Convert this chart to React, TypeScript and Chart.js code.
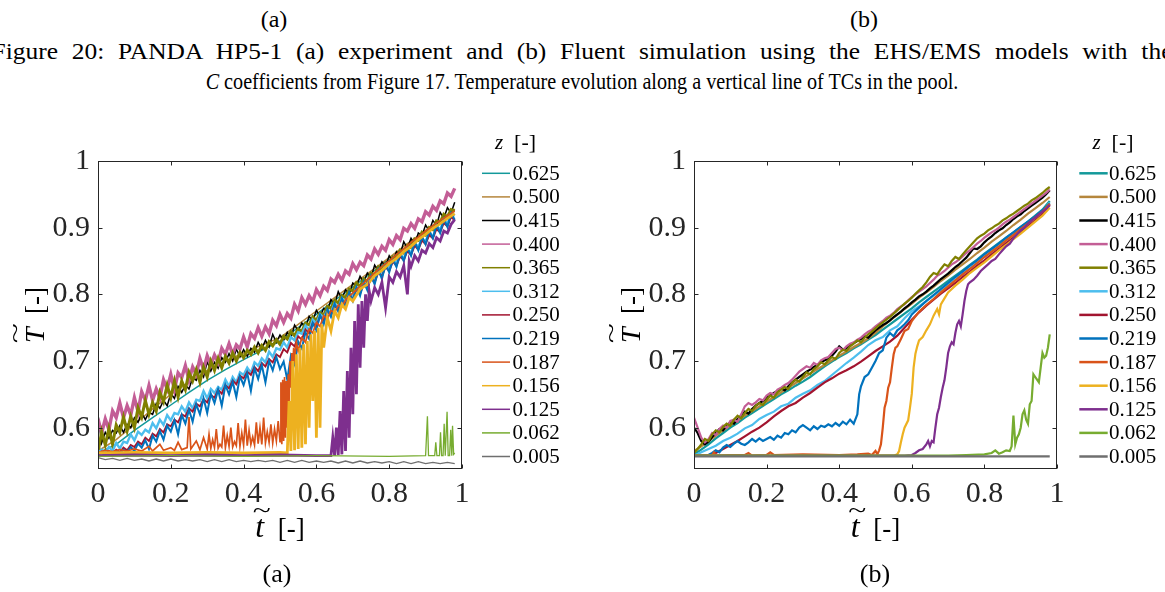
import React, { useEffect, useRef } from "react";
import { Chart, registerables } from "chart.js";
Chart.register(...registerables);

// ---------- categories / ticks ----------
const zLabels = ["0.625", "0.500", "0.415", "0.400", "0.365", "0.312", "0.250", "0.219", "0.187", "0.156", "0.125", "0.062", "0.005"];
const zColors = ["#13999a", "#b5863c", "#000000", "#c35e96", "#808000", "#4dbeee", "#a2142f", "#0072bd", "#d95319", "#edb120", "#7e2f8e", "#77ac30", "#6f6f6f"];
const xTickValues = [0, 0.2, 0.4, 0.6, 0.8, 1];
const yTickValues = [0.6, 0.7, 0.8, 0.9, 1];

// ---------- time grids ----------
const gridFine = [0,0.01,0.02,0.03,0.04,0.05,0.06,0.07,0.08,0.09,0.1,0.11,0.12,0.13,0.14,0.15,0.16,0.17,0.18,0.19,0.2,0.21,0.22,0.23,0.24,0.25,0.26,0.27,0.28,0.29,0.3,0.31,0.32,0.33,0.34,0.35,0.36,0.37,0.38,0.39,0.4,0.41,0.42,0.43,0.44,0.45,0.46,0.47,0.48,0.49,0.5,0.51,0.52,0.53,0.54,0.55,0.56,0.57,0.58,0.59,0.6,0.61,0.62,0.63,0.64,0.65,0.66,0.67,0.68,0.69,0.7,0.71,0.72,0.73,0.74,0.75,0.76,0.77,0.78,0.79,0.8,0.81,0.82,0.83,0.84,0.85,0.86,0.87,0.88,0.89,0.9,0.91,0.92,0.93,0.94,0.95,0.96,0.97,0.98];
const gridMid = [0,0.02,0.04,0.06,0.08,0.1,0.12,0.14,0.16,0.18,0.2,0.22,0.24,0.26,0.28,0.3,0.32,0.34,0.36,0.38,0.4,0.42,0.44,0.46,0.48,0.5,0.52,0.54,0.56,0.58,0.6,0.62,0.64,0.66,0.68,0.7,0.72,0.74,0.76,0.78,0.8,0.82,0.84,0.86,0.88,0.9,0.92,0.94,0.96,0.98];
const gridCoarse = [0,0.05,0.1,0.15,0.2,0.25,0.3,0.35,0.4,0.45,0.5,0.55,0.6,0.65,0.7,0.75,0.8,0.85,0.9,0.95,0.98];

// ---------- (a) experiment ----------
const expTeal = [0.562,0.575,0.596,0.615,0.634,0.653,0.671,0.687,0.702,0.716,0.730,0.750,0.770,0.791,0.811,0.832,0.852,0.872,0.893,0.912,0.926];
const expTan = [0.565,0.582,0.605,0.628,0.650,0.668,0.686,0.700,0.712,0.724,0.735,0.755,0.775,0.795,0.815,0.835,0.855,0.876,0.896,0.915,0.928];
const expBlack = [0.620,0.577,0.593,0.584,0.596,0.592,0.603,0.593,0.605,0.600,
  0.615,0.608,0.622,0.612,0.623,0.620,0.636,0.629,0.641,0.633,
  0.651,0.644,0.662,0.653,0.664,0.658,0.675,0.671,0.686,0.676,
  0.699,0.685,0.698,0.689,0.705,0.698,0.711,0.700,0.718,0.706,
  0.717,0.707,0.719,0.713,0.728,0.718,0.731,0.721,0.740,0.728,
  0.739,0.731,0.743,0.735,0.754,0.745,0.757,0.750,0.767,0.760,
  0.776,0.767,0.779,0.775,0.792,0.785,0.804,0.793,0.807,0.800,
  0.817,0.812,0.827,0.818,0.832,0.825,0.844,0.835,0.849,0.842,
  0.858,0.849,0.864,0.859,0.879,0.869,0.884,0.875,0.892,0.888,
  0.904,0.895,0.911,0.903,0.923,0.914,0.930,0.922,0.938];
const expPink = [0.613,0.592,0.613,0.597,0.625,0.615,0.637,0.615,0.633,0.619,
  0.645,0.624,0.654,0.641,0.663,0.641,0.658,0.645,0.672,0.658,
  0.680,0.657,0.682,0.675,0.693,0.671,0.691,0.680,0.704,0.687,
  0.708,0.694,0.709,0.698,0.719,0.710,0.726,0.710,0.724,0.718,
  0.736,0.721,0.741,0.734,0.750,0.737,0.751,0.741,0.761,0.753,
  0.770,0.758,0.771,0.764,0.785,0.775,0.795,0.785,0.798,0.789,
  0.807,0.798,0.812,0.806,0.823,0.818,0.830,0.821,0.835,0.830,
  0.846,0.837,0.848,0.843,0.859,0.853,0.868,0.860,0.872,0.866,
  0.882,0.875,0.888,0.882,0.899,0.895,0.906,0.899,0.913,0.909,
  0.924,0.919,0.932,0.926,0.940,0.936,0.952,0.947,0.959];
const expOlive = [0.562,0.594,0.574,0.599,0.575,0.604,0.593,0.616,0.595,0.617,
  0.600,0.630,0.616,0.641,0.620,0.638,0.625,0.653,0.639,0.664,
  0.645,0.670,0.646,0.670,0.657,0.683,0.670,0.687,0.668,0.691,
  0.676,0.700,0.686,0.704,0.690,0.707,0.697,0.712,0.700,0.713,
  0.705,0.716,0.710,0.721,0.712,0.723,0.716,0.729,0.723,0.732,
  0.725,0.737,0.733,0.744,0.738,0.748,0.744,0.757,0.754,0.766,
  0.761,0.772,0.768,0.782,0.779,0.791,0.787,0.798,0.795,0.808,
  0.805,0.817,0.812,0.823,0.819,0.832,0.829,0.841,0.836,0.847,
  0.843,0.856,0.854,0.866,0.862,0.873,0.870,0.883,0.881,0.893,
  0.889,0.900,0.897,0.910,0.908,0.920,0.916,0.927,0.925];
const expLightBlue = [0.562,0.567,0.562,0.571,0.565,0.577,0.569,0.579,0.577,0.590,
  0.581,0.594,0.589,0.597,0.593,0.607,0.599,0.612,0.604,0.619,
  0.611,0.622,0.620,0.632,0.624,0.638,0.629,0.642,0.640,0.655,
  0.644,0.658,0.652,0.661,0.657,0.672,0.662,0.676,0.668,0.683,
  0.679,0.690,0.682,0.698,0.693,0.704,0.698,0.714,0.706,0.719,
  0.717,0.728,0.720,0.736,0.731,0.743,0.741,0.753,0.746,0.762,
  0.756,0.770,0.765,0.776,0.773,0.786,0.779,0.794,0.789,0.800,
  0.798,0.810,0.804,0.817,0.814,0.827,0.821,0.836,0.829,0.844,
  0.840,0.850,0.848,0.860,0.854,0.868,0.862,0.876,0.872,0.882,
  0.880,0.892,0.886,0.903,0.897,0.912,0.906,0.921,0.918];
const expRed = [0.561,0.564,0.560,0.565,0.561,0.567,0.563,0.570,0.566,0.574,
  0.571,0.579,0.575,0.585,0.580,0.591,0.587,0.598,0.593,0.605,
  0.602,0.612,0.608,0.620,0.617,0.629,0.624,0.636,0.632,0.643,
  0.638,0.649,0.645,0.657,0.651,0.664,0.659,0.671,0.665,0.678,
  0.674,0.684,0.679,0.691,0.685,0.697,0.692,0.703,0.698,0.710,
  0.706,0.718,0.713,0.727,0.722,0.737,0.732,0.747,0.742,0.757,
  0.752,0.767,0.761,0.775,0.769,0.783,0.777,0.791,0.785,0.799,
  0.793,0.807,0.801,0.816,0.810,0.824,0.818,0.833,0.827,0.841,
  0.835,0.849,0.843,0.857,0.851,0.865,0.859,0.873,0.867,0.881,
  0.875,0.889,0.884,0.898,0.893,0.907,0.902,0.916,0.911];
const expBlue = [0.560,0.562,0.558,0.563,0.560,0.565,0.560,0.567,0.563,0.571,
  0.565,0.576,0.570,0.581,0.568,0.588,0.579,0.595,0.582,0.603,
  0.594,0.611,0.590,0.619,0.606,0.627,0.609,0.635,0.620,0.644,
  0.622,0.651,0.637,0.657,0.633,0.664,0.650,0.669,0.646,0.677,
  0.664,0.682,0.655,0.689,0.673,0.694,0.668,0.700,0.686,0.706,
  0.688,0.699,0.672,0.708,0.695,0.729,0.719,0.743,0.733,0.757,
  0.746,0.769,0.755,0.777,0.766,0.786,0.774,0.794,0.781,0.803,
  0.790,0.811,0.798,0.819,0.806,0.828,0.815,0.837,0.823,0.845,
  0.833,0.853,0.841,0.862,0.850,0.870,0.858,0.879,0.866,0.887,
  0.875,0.896,0.884,0.904,0.892,0.913,0.901,0.922,0.912];
const expOrangeT = [0,0.02,0.04,0.06,0.08,0.1,0.12,0.14,0.15,0.17,0.18,0.2,0.21,0.22,0.23,0.245,0.25,0.255,0.27,0.28,0.29,
  0.3,0.305,0.31,0.315,0.32,0.325,0.33,0.335,0.34,0.345,0.35,0.355,0.36,0.365,0.37,0.375,0.38,0.385,0.39,0.395,0.4,0.405,0.41,0.415,0.42,0.425,0.43,0.435,0.44,0.445,0.45,0.455,0.46,0.465,0.47,0.475,0.48,0.485,0.49,0.495,0.5,
  0.5025,0.505,0.5075,0.51,0.5125,0.515,0.5175,0.52,0.5225,0.525,0.5275,0.53,0.5325,0.535,0.5375,0.54,0.545,0.55,
  0.56,0.57,0.58,0.59,0.6,0.61,0.62,0.63,0.64,0.65,0.66,0.67,0.68,
  0.7,0.72,0.74,0.76,0.78,0.8,0.82,0.84,0.86,0.88,0.9,0.92,0.94,0.96,0.98];
const expOrange = [0.563,0.566,0.564,0.567,0.565,0.568,0.565,0.572,0.565,0.575,0.566,0.570,0.566,0.578,0.567,0.570,0.616,0.568,0.580,0.567,0.585,
  0.568,0.590,0.569,0.582,0.570,0.598,0.569,0.575,0.571,0.603,
  0.570,0.588,0.572,0.600,0.571,0.579,0.573,0.607,0.572,0.592,
  0.574,0.612,0.573,0.596,0.575,0.586,0.574,0.608,0.576,0.600,
  0.575,0.615,0.577,0.594,0.578,0.605,0.577,0.598,0.580,0.610,
  0.579,
  0.668,0.575,0.672,0.580,0.676,0.585,0.670,0.600,0.680,0.640,0.700,0.660,0.712,0.690,0.720,
  0.705,0.728,0.715,
  0.735,0.728,0.748,0.742,0.758,0.752,0.768,0.763,0.776,0.772,0.784,0.781,0.792,
  0.802,0.812,0.822,0.832,0.842,0.850,0.860,0.868,0.878,0.886,0.895,0.903,0.911,0.918,0.925];
const expYellowT = [0,0.1,0.2,0.3,0.4,0.5,0.52,0.525,0.53,0.535,0.54,0.545,0.55,0.555,0.56,0.565,0.57,0.575,0.58,0.585,0.59,0.595,0.6,0.605,0.61,0.615,0.62,0.63,0.64,0.65,0.66,0.67,0.68,0.69,0.7,0.72,0.74,0.76,0.78,0.8,0.82,0.84,0.86,0.88,0.9,0.92,0.94,0.96,0.98];
const expYellow = [0.562,0.563,0.562,0.563,0.562,0.563,
  0.562,
  0.640,0.565,0.700,0.566,0.710,0.568,0.720,0.570,0.725,0.575,0.730,0.600,0.740,0.640,0.745,0.585,0.750,0.600,0.755,
  0.720,0.765,0.745,0.775,0.765,0.785,0.778,0.795,0.790,
  0.808,0.815,0.828,0.836,0.846,0.854,0.864,0.872,0.882,0.890,0.899,0.906,0.914,0.921];
const expPurpleT = [0,0.1,0.2,0.3,0.4,0.5,0.6,0.64,0.645,0.65,0.655,0.66,0.665,0.67,0.675,0.68,0.685,0.69,0.695,0.7,0.705,0.71,0.715,0.72,0.725,0.73,0.735,0.74,0.745,0.75,0.76,0.77,0.78,0.79,0.8,0.81,0.82,0.83,0.84,0.85,0.855,0.86,0.87,0.88,0.89,0.9,0.91,0.92,0.93,0.94,0.95,0.96,0.97,0.98];
const expPurple = [0.558,0.559,0.558,0.559,0.558,0.559,0.558,
  0.558,
  0.585,0.558,0.600,0.559,0.625,0.560,0.655,0.565,0.685,0.585,0.720,0.620,0.760,0.650,0.785,0.690,0.790,0.720,0.800,0.760,0.805,0.790,
  0.810,0.800,0.818,0.780,0.826,0.818,0.834,0.826,0.843,0.800,
  0.850,
  0.842,0.858,0.850,0.866,0.862,0.876,0.870,0.885,0.880,0.895,0.892,0.905,0.912];
const expGreenT = [0,0.2,0.4,0.6,0.8,0.9,0.905,0.908,0.925,0.928,0.931,0.938,0.941,0.944,0.948,0.951,0.954,0.956,0.959,0.962,0.966,0.969,0.972,0.974,0.977,0.98];
const expGreen = [0.557,0.558,0.557,0.558,0.557,0.558,0.617,0.558,0.558,0.578,0.558,0.558,0.593,0.558,0.558,0.606,0.558,0.558,0.624,0.558,0.558,0.597,0.558,0.603,0.560,0.562];
const expGray = [0.555,0.552,0.554,0.551,0.554,0.551,0.553,0.550,0.553,0.550,
  0.553,0.550,0.552,0.550,0.552,0.549,0.552,0.549,0.552,0.549,
  0.551,0.549,0.551,0.549,0.551,0.548,0.551,0.548,0.551,0.548,
  0.550,0.548,0.550,0.547,0.550,0.547,0.550,0.547,0.549,0.547,
  0.549,0.546,0.549,0.546,0.549,0.546,0.548,0.546,0.548,0.546];

// ---------- (b) simulation ----------
const simTeal = [0.560,0.567,0.575,0.584,0.592,0.600,0.607,0.615,0.622,0.629,
  0.636,0.643,0.650,0.656,0.663,0.669,0.676,0.684,0.692,0.699,
  0.706,0.712,0.719,0.725,0.732,0.739,0.747,0.755,0.763,0.771,
  0.779,0.788,0.796,0.804,0.812,0.820,0.828,0.836,0.844,0.852,
  0.861,0.869,0.877,0.885,0.893,0.901,0.909,0.918,0.927,0.940];
const simTan = [0.565,0.572,0.580,0.588,0.596,0.604,0.611,0.618,0.625,0.632,
  0.639,0.646,0.653,0.660,0.667,0.674,0.681,0.688,0.694,0.701,
  0.708,0.714,0.721,0.727,0.734,0.742,0.752,0.761,0.769,0.778,
  0.786,0.795,0.803,0.811,0.820,0.828,0.837,0.845,0.853,0.862,
  0.870,0.879,0.887,0.895,0.904,0.912,0.921,0.929,0.937,0.946];
const simBlack = [0.600,0.592,0.580,0.575,0.579,0.586,0.592,0.598,0.596,0.603,
  0.608,0.606,0.613,0.618,0.624,0.621,0.628,0.633,0.637,0.640,
  0.645,0.648,0.652,0.655,0.659,0.656,0.662,0.668,0.672,0.676,
  0.680,0.684,0.687,0.691,0.694,0.698,0.701,0.703,0.708,0.714,
  0.722,0.717,0.719,0.724,0.727,0.730,0.733,0.737,0.735,0.741,
  0.746,0.750,0.754,0.757,0.761,0.766,0.770,0.774,0.779,0.783,
  0.788,0.792,0.797,0.800,0.804,0.809,0.813,0.818,0.823,0.827,
  0.831,0.836,0.841,0.845,0.850,0.855,0.862,0.869,0.868,0.872,
  0.878,0.883,0.887,0.892,0.896,0.899,0.904,0.908,0.913,0.917,
  0.920,0.925,0.929,0.933,0.937,0.941,0.945,0.950,0.956];
const simPink = [0.615,0.600,0.585,0.578,0.583,0.592,0.589,0.598,0.603,0.600,
  0.610,0.612,0.609,0.620,0.632,0.637,0.634,0.638,0.643,0.641,
  0.648,0.652,0.650,0.657,0.660,0.664,0.667,0.672,0.678,0.684,
  0.688,0.692,0.690,0.697,0.694,0.701,0.704,0.706,0.712,0.718,
  0.720,0.716,0.722,0.726,0.728,0.732,0.735,0.740,0.744,0.747,
  0.752,0.756,0.760,0.765,0.768,0.772,0.778,0.782,0.785,0.791,
  0.796,0.800,0.804,0.808,0.812,0.817,0.822,0.828,0.831,0.835,
  0.840,0.845,0.848,0.852,0.857,0.862,0.866,0.871,0.876,0.880,
  0.885,0.889,0.893,0.896,0.900,0.905,0.909,0.912,0.916,0.920,
  0.924,0.928,0.932,0.936,0.940,0.944,0.948,0.952,0.957];
const simOlive = [0.562,0.568,0.575,0.583,0.580,0.590,0.596,0.593,0.601,0.606,
  0.603,0.612,0.618,0.614,0.622,0.628,0.625,0.633,0.637,0.634,
  0.642,0.648,0.645,0.653,0.657,0.661,0.658,0.667,0.672,0.669,
  0.676,0.683,0.680,0.688,0.692,0.698,0.695,0.701,0.706,0.703,
  0.712,0.717,0.715,0.722,0.726,0.731,0.728,0.735,0.740,0.744,
  0.749,0.754,0.758,0.762,0.766,0.771,0.776,0.781,0.786,0.790,
  0.795,0.801,0.806,0.811,0.818,0.826,0.832,0.830,0.838,0.845,
  0.842,0.850,0.856,0.853,0.860,0.866,0.872,0.878,0.884,0.888,
  0.891,0.896,0.899,0.903,0.906,0.911,0.914,0.918,0.921,0.925,
  0.929,0.933,0.936,0.941,0.944,0.948,0.952,0.957,0.961];
const simLightBlue = [0.558,0.563,0.568,0.573,0.580,0.585,0.591,0.599,0.604,0.613,
  0.619,0.624,0.632,0.636,0.645,0.651,0.656,0.664,0.670,0.679,
  0.688,0.697,0.705,0.714,0.724,0.731,0.736,0.746,0.752,0.764,
  0.775,0.782,0.790,0.798,0.806,0.814,0.822,0.830,0.839,0.847,
  0.856,0.864,0.872,0.881,0.889,0.898,0.906,0.915,0.924,0.938];
const simRed = [0.558,0.558,0.559,0.562,0.568,0.574,0.580,0.587,0.594,0.600,
  0.608,0.617,0.625,0.632,0.637,0.645,0.652,0.660,0.668,0.674,
  0.681,0.686,0.692,0.699,0.707,0.715,0.722,0.729,0.738,0.750,
  0.762,0.773,0.783,0.792,0.801,0.809,0.817,0.826,0.834,0.843,
  0.851,0.860,0.868,0.877,0.885,0.894,0.902,0.911,0.920,0.934];
const simBlueT = [0,0.04,0.05,0.06,0.07,0.08,0.09,0.1,0.11,0.12,0.13,0.14,0.15,0.16,0.17,0.18,0.19,0.2,0.21,0.22,0.23,0.24,0.25,0.26,0.27,0.28,0.29,0.3,0.31,0.32,0.33,0.34,0.35,0.36,0.37,0.38,0.39,0.4,0.41,0.42,0.43,0.44,0.45,0.455,0.46,0.47,0.48,0.49,0.5,0.51,0.52,0.53,0.54,0.55,0.56,0.57,0.58,0.59,0.6,0.62,0.64,0.66,0.68,0.7,0.72,0.74,0.76,0.78,0.8,0.82,0.84,0.86,0.88,0.9,0.92,0.94,0.96,0.98];
const simBlue = [0.558,
  0.559,0.562,0.566,0.563,0.570,0.574,0.571,0.576,0.580,0.576,
  0.574,0.578,0.583,0.579,0.584,0.580,0.583,0.586,0.582,0.588,
  0.585,0.592,0.590,0.596,0.593,0.600,0.604,0.600,0.596,0.602,
  0.598,0.603,0.601,0.605,0.602,0.607,0.603,0.609,0.605,0.612,
  0.606,0.620,
  0.650,
  0.662,0.676,0.680,0.690,0.700,0.712,0.716,0.735,0.742,0.737,0.746,0.750,0.755,0.761,0.770,
  0.780,0.790,0.799,0.808,0.817,0.826,0.834,0.843,0.851,0.860,0.868,0.876,0.885,0.893,0.901,0.909,0.917,0.926,0.936];
const simOrangeT = [0,0.05,0.055,0.06,0.1,0.14,0.15,0.16,0.2,0.21,0.22,0.3,0.4,0.45,0.48,0.49,0.5,0.505,0.51,0.515,0.52,0.525,0.53,0.535,0.54,0.545,0.55,0.555,0.56,0.57,0.58,0.59,0.6,0.62,0.64,0.66,0.68,0.7,0.72,0.74,0.76,0.78,0.8,0.82,0.84,0.86,0.88,0.9,0.92,0.94,0.96,0.98];
const simOrange = [0.558,0.559,0.563,0.558,0.559,
  0.559,0.562,0.558,0.559,0.563,
  0.559,0.560,0.559,0.560,0.561,
  0.559,0.565,0.560,0.566,0.575,
  0.600,0.630,0.640,0.660,0.668,
  0.690,0.710,0.720,0.722,0.733,
  0.745,0.748,0.760,0.774,0.784,
  0.793,0.803,0.812,0.821,0.830,
  0.838,0.847,0.856,0.864,0.872,
  0.881,0.889,0.898,0.906,0.915,
  0.924,0.936];
const simYellowT = [0,0.3,0.55,0.56,0.565,0.57,0.575,0.58,0.59,0.595,0.6,0.605,0.61,0.615,0.62,0.63,0.64,0.65,0.66,0.67,0.675,0.68,0.69,0.7,0.72,0.74,0.76,0.78,0.8,0.82,0.84,0.86,0.88,0.9,0.92,0.94,0.96,0.98];
const simYellow = [0.558,0.558,0.558,0.560,0.565,
  0.578,0.590,0.600,0.611,0.630,
  0.651,0.690,0.711,0.722,0.731,
  0.736,0.746,0.755,0.768,0.778,
  0.770,0.785,0.794,0.803,0.813,
  0.822,0.832,0.840,0.848,0.857,
  0.866,0.874,0.883,0.891,0.900,
  0.909,0.918,0.930];
const simPurpleT = [0,0.58,0.6,0.61,0.62,0.63,0.64,0.645,0.65,0.655,0.66,0.665,0.67,0.675,0.68,0.685,0.69,0.695,0.7,0.705,0.71,0.715,0.72,0.725,0.73,0.735,0.74,0.745,0.75,0.755,0.76,0.77,0.78,0.79,0.8,0.81,0.82,0.83,0.84,0.85,0.86,0.87,0.88,0.89,0.9,0.91,0.92,0.93,0.94,0.95,0.96,0.97,0.98];
const simPurple = [0.558,0.558,0.559,0.562,0.566,
  0.568,0.575,
  0.580,0.572,0.580,0.578,0.600,0.620,0.630,0.646,0.660,0.671,0.690,0.712,0.722,0.728,0.725,0.742,0.755,0.760,0.752,0.770,0.790,0.805,0.815,
  0.818,0.822,0.828,0.835,0.840,0.845,0.850,0.853,0.860,0.866,0.872,0.876,0.884,0.890,0.896,0.900,0.906,0.911,0.915,0.920,0.924,0.928,0.934];
const simGreenT = [0,0.7,0.75,0.8,0.82,0.83,0.84,0.85,0.86,0.87,0.875,0.88,0.885,0.89,0.895,0.9,0.905,0.91,0.915,0.92,0.925,0.93,0.935,0.94,0.945,0.95,0.955,0.96,0.965,0.97,0.975,0.98];
const simGreen = [0.558,0.558,0.559,0.560,0.562,0.566,0.561,0.563,0.566,0.565,0.572,0.618,0.575,0.585,0.590,0.600,0.620,0.626,0.612,0.606,0.635,0.640,0.680,0.676,0.672,0.668,0.690,0.712,0.705,0.708,0.720,0.740];
const simGrayT = [0, 0.5, 0.98];
const simGray = [0.557, 0.557, 0.557];

// ---------- series tables (t grid, values) in legend order ----------
const expSeries: [number[], number[]][] = [
  [gridCoarse, expTeal], [gridCoarse, expTan], [gridFine, expBlack], [gridFine, expPink],
  [gridFine, expOlive], [gridFine, expLightBlue], [gridFine, expRed], [gridFine, expBlue],
  [expOrangeT, expOrange], [expYellowT, expYellow], [expPurpleT, expPurple], [expGreenT, expGreen],
  [gridMid, expGray],
];
const simSeries: [number[], number[]][] = [
  [gridMid, simTeal], [gridMid, simTan], [gridFine, simBlack], [gridFine, simPink],
  [gridFine, simOlive], [gridMid, simLightBlue], [gridMid, simRed], [simBlueT, simBlue],
  [simOrangeT, simOrange], [simYellowT, simYellow], [simPurpleT, simPurple], [simGreenT, simGreen],
  [simGrayT, simGray],
];

const SERIF = '"Liberation Serif", "Times New Roman", serif';

type PanelLayout = {
  pageLeft: number; pageTop: number; width: number; height: number;
  areaLeft: number; areaTop: number; areaRight: number; areaBottom: number;
  lineWidths: number[]; legendLineWidth: number;
  legendX0: number; legendX1: number; legendTextX: number; legendTop: number; legendStep: number;
  legendTitleX: number; legendTitleY: number;
  yTitleX: number; yTitleY: number; xTitleX: number; xTitleY: number;
};

const X_AXIS_H = 50;

function drawTilde(ctx: CanvasRenderingContext2D, cx: number, cy: number, w: number) {
  ctx.save();
  ctx.font = `24px ${SERIF}`;
  ctx.textAlign = "center";
  ctx.textBaseline = "middle";
  const mw = ctx.measureText("~").width;
  ctx.translate(cx, cy);
  ctx.scale(w / mw, 0.85);
  ctx.fillText("~", 0, 0);
  ctx.restore();
}

function makeDecor(L: PanelLayout) {
  return {
    id: "decor",
    afterDraw(chart: any) {
      const ctx: CanvasRenderingContext2D = chart.ctx;
      const a = chart.chartArea;
      const xs = chart.scales.x;
      const ys = chart.scales.y;
      ctx.save();
      // frame
      const l = Math.round(a.left) + 0.5, r = Math.round(a.right) - 0.5;
      const t = Math.round(a.top) + 0.5, b = Math.round(a.bottom) - 0.5;
      ctx.strokeStyle = "#262626";
      ctx.lineWidth = 1;
      ctx.strokeRect(l, t, r - l, b - t);
      // inward ticks on all four sides
      ctx.beginPath();
      xTickValues.forEach((v) => {
        const px = Math.round(xs.getPixelForValue(v)) + 0.5;
        ctx.moveTo(px, b); ctx.lineTo(px, b - 4);
        ctx.moveTo(px, t); ctx.lineTo(px, t + 4);
      });
      yTickValues.forEach((v) => {
        const py = Math.round(ys.getPixelForValue(v)) + 0.5;
        ctx.moveTo(l, py); ctx.lineTo(l + 4, py);
        ctx.moveTo(r, py); ctx.lineTo(r - 4, py);
      });
      ctx.stroke();

      ctx.fillStyle = "#000";
      // legend title  z [-]
      ctx.textBaseline = "alphabetic";
      ctx.textAlign = "left";
      ctx.font = `italic 21px ${SERIF}`;
      const wz = ctx.measureText("z").width;
      ctx.font = `22px ${SERIF}`;
      const wb = ctx.measureText("  [-]").width;
      let x0 = L.legendTitleX - (wz + wb) / 2;
      ctx.font = `italic 21px ${SERIF}`;
      ctx.fillText("z", x0, L.legendTitleY);
      ctx.font = `22px ${SERIF}`;
      ctx.fillText("  [-]", x0 + wz, L.legendTitleY);

      // legend entries
      ctx.textBaseline = "middle";
      ctx.font = `21px ${SERIF}`;
      zLabels.forEach((lab, i) => {
        const y = L.legendTop + i * L.legendStep;
        ctx.strokeStyle = zColors[i];
        ctx.lineWidth = L.legendLineWidth;
        ctx.beginPath();
        ctx.moveTo(L.legendX0, y);
        ctx.lineTo(L.legendX1, y);
        ctx.stroke();
        ctx.fillText(lab, L.legendTextX, y + 1);
      });

      // x title  t~ [-]
      ctx.textBaseline = "alphabetic";
      ctx.font = `italic 32px ${SERIF}`;
      const wt = ctx.measureText("t").width;
      ctx.font = `27px ${SERIF}`;
      const wr = ctx.measureText("  [-]").width;
      x0 = L.xTitleX - (wt + wr) / 2;
      ctx.font = `italic 32px ${SERIF}`;
      ctx.fillText("t", x0, L.xTitleY);
      ctx.font = `27px ${SERIF}`;
      ctx.fillText("  [-]", x0 + wt, L.xTitleY);
      drawTilde(ctx, x0 + wt / 2 + 2, L.xTitleY - 25, 18);

      // y title  T~ [-] (rotated)
      ctx.save();
      ctx.translate(L.yTitleX, L.yTitleY);
      ctx.rotate(-Math.PI / 2);
      ctx.font = `italic 28px ${SERIF}`;
      const wT = ctx.measureText("T").width;
      ctx.font = `27px ${SERIF}`;
      const wR = ctx.measureText("  [-]").width;
      const y0 = -(wT + wR) / 2;
      ctx.font = `italic 28px ${SERIF}`;
      ctx.fillText("T", y0, 0);
      ctx.font = `27px ${SERIF}`;
      ctx.fillText("  [-]", y0 + wT, 0);
      drawTilde(ctx, y0 + wT / 2 + 2, -27, 20);
      ctx.restore();

      ctx.restore();
    },
  };
}

const fmtTick = (v: number) => (v === 0 || v === 1 ? String(v) : Number(v).toFixed(1));

function Panel({ series, L }: { series: [number[], number[]][]; L: PanelLayout }) {
  const ref = useRef<HTMLCanvasElement | null>(null);
  useEffect(() => {
    if (!ref.current) return;
    const datasets = series.map(([ts, vs], i) => ({
      label: zLabels[i],
      data: ts.slice(0, Math.min(ts.length, vs.length)).map((tv, j) => ({ x: tv, y: vs[j] })),
      borderColor: zColors[i],
      backgroundColor: zColors[i],
      borderWidth: L.lineWidths[i],
      pointRadius: 0,
      tension: 0,
      fill: false,
      order: zLabels.length - 1 - i,
    }));
    const tickFont = { family: SERIF, size: 30 };
    const chart = new Chart(ref.current, {
      type: "line",
      data: { datasets },
      options: {
        animation: false,
        responsive: false,
        maintainAspectRatio: false,
        events: [],
        layout: {
          padding: {
            left: 0,
            top: L.areaTop,
            right: L.width - L.areaRight,
            bottom: L.height - L.areaBottom - X_AXIS_H,
          },
        },
        plugins: { legend: { display: false }, tooltip: { enabled: false }, title: { display: false } },
        scales: {
          x: {
            type: "linear",
            min: 0,
            max: 1,
            grid: { display: false, drawTicks: false },
            border: { display: false },
            afterBuildTicks: (s: any) => { s.ticks = xTickValues.map((v) => ({ value: v })); },
            afterFit: (s: any) => { s.height = X_AXIS_H; s.paddingLeft = 0; s.paddingRight = 0; },
            ticks: { font: tickFont, color: "#262626", padding: 7, maxRotation: 0, autoSkip: false, callback: (v: any) => fmtTick(Number(v)) },
          },
          y: {
            type: "linear",
            min: 0.538,
            max: 1,
            grid: { display: false, drawTicks: false },
            border: { display: false },
            afterBuildTicks: (s: any) => { s.ticks = yTickValues.map((v) => ({ value: v })); },
            afterFit: (s: any) => { s.width = L.areaLeft; s.paddingTop = 0; s.paddingBottom = 0; },
            ticks: { font: tickFont, color: "#262626", padding: 8, autoSkip: false, callback: (v: any) => fmtTick(Number(v)) },
          },
        },
      } as any,
      plugins: [makeDecor(L)],
    });
    return () => chart.destroy();
  }, [series, L]);
  return (
    <canvas
      ref={ref}
      width={L.width}
      height={L.height}
      style={{ position: "absolute", left: L.pageLeft, top: L.pageTop, width: L.width, height: L.height }}
    />
  );
}

const leftLayout: PanelLayout = {
  pageLeft: 0, pageTop: 120, width: 580, height: 472,
  areaLeft: 98, areaTop: 41, areaRight: 462, areaBottom: 349,
  lineWidths: [1.5, 1.5, 1.5, 3.4, 3.0, 2.4, 1.9, 2.0, 1.7, 2.8, 2.8, 1.3, 1.3],
  legendLineWidth: 1.5,
  legendX0: 482, legendX1: 510, legendTextX: 512.5, legendTop: 53.3, legendStep: 23.6,
  legendTitleX: 515.5, legendTitleY: 29,
  yTitleX: 44, yTitleY: 195, xTitleX: 280, xTitleY: 417,
};
const rightLayout: PanelLayout = {
  pageLeft: 580, pageTop: 120, width: 585, height: 472,
  areaLeft: 114, areaTop: 41, areaRight: 477, areaBottom: 349,
  lineWidths: [2.2, 2.2, 2.2, 2.2, 2.2, 2.2, 2.2, 2.2, 2.2, 2.2, 2.2, 2.2, 2.4],
  legendLineWidth: 2.5,
  legendX0: 499.3, legendX1: 527.7, legendTextX: 529, legendTop: 53.3, legendStep: 23.6,
  legendTitleX: 533, legendTitleY: 29,
  yTitleX: 60, yTitleY: 195, xTitleX: 295.5, xTitleY: 417,
};

function Label({ cx, cy, size, sx = 1, ws = 0, children }: { cx: number; cy: number; size: number; sx?: number; ws?: number; children: any }) {
  const lh = Math.round(size * 1.2);
  return (
    <div
      style={{
        position: "absolute", left: cx - 800, width: 1600, top: cy - lh / 2, height: lh,
        lineHeight: `${lh}px`, fontSize: size, textAlign: "center", whiteSpace: "nowrap",
        fontFamily: SERIF, color: "#000", transform: `scaleX(${sx})`, transformOrigin: "50% 50%",
        wordSpacing: ws,
      }}
    >
      {children}
    </div>
  );
}

export default function App() {
  return (
    <div style={{ position: "absolute", left: 0, top: 0, width: 1165, height: 592, overflow: "hidden", background: "#fff" }}>
      <Label cx={274} cy={19} size={24}>(a)</Label>
      <Label cx={864} cy={19} size={24}>(b)</Label>
      <Label cx={582} cy={51} size={24} sx={1.06} ws={7}>
        Figure 20: PANDA HP5-1 (a) experiment and (b) Fluent simulation using the EHS/EMS models with the
      </Label>
      <Label cx={582} cy={81} size={24} sx={0.84}>
        <i>C</i> coefficients from Figure 17. Temperature evolution along a vertical line of TCs in the pool.
      </Label>
      <Panel series={expSeries} L={leftLayout} />
      <Panel series={simSeries} L={rightLayout} />
      <Label cx={277} cy={573} size={26}>(a)</Label>
      <Label cx={875} cy={573} size={26}>(b)</Label>
    </div>
  );
}
